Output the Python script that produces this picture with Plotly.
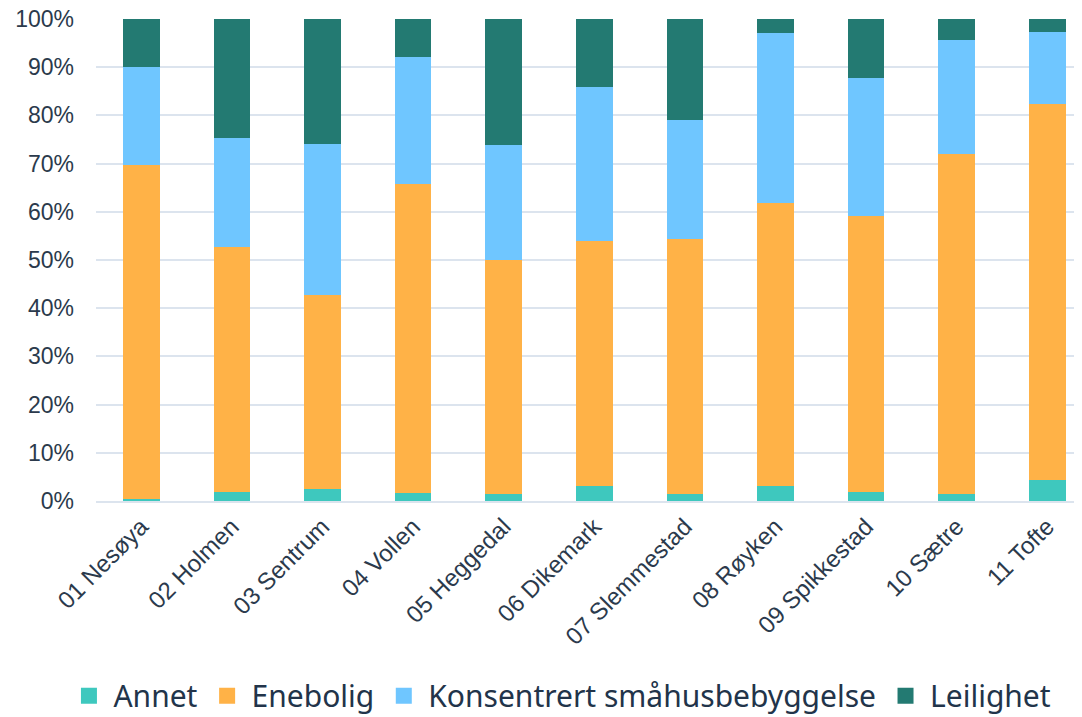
import plotly.graph_objects as go

categories = ["01 Nesøya", "02 Holmen", "03 Sentrum", "04 Vollen", "05 Heggedal",
              "06 Dikemark", "07 Slemmestad", "08 Røyken", "09 Spikkestad", "10 Sætre", "11 Tofte"]
annet = [0.5, 1.9, 2.5, 1.7, 1.4, 3.2, 1.5, 3.1, 1.9, 1.5, 4.4]
enebolig = [69.3, 50.8, 40.3, 64.0, 48.5, 50.8, 52.9, 58.7, 57.2, 70.5, 78.0]
konsentrert = [20.2, 22.7, 31.2, 26.5, 24.0, 31.9, 24.7, 35.3, 28.6, 23.7, 15.0]
leilighet = [10.0, 24.6, 26.0, 7.8, 26.1, 14.1, 20.9, 2.9, 12.3, 4.3, 2.6]

series = [
    ("Annet", annet, "#3EC8BE"),
    ("Enebolig", enebolig, "#FFB247"),
    ("Konsentrert småhusbebyggelse", konsentrert, "#6FC6FF"),
    ("Leilighet", leilighet, "#237A72"),
]

fig = go.Figure()
for name, vals, col in series:
    fig.add_trace(go.Bar(x=categories, y=[v / 100 for v in vals], name=name,
                         marker=dict(color=col, line=dict(width=0)),
                         legendgroup=name, showlegend=False))
# legend proxies with larger square symbols
for name, vals, col in series:
    fig.add_trace(go.Scatter(x=[None], y=[None], mode="markers", name=name,
                             legendgroup=name, showlegend=True,
                             marker=dict(symbol="square", size=16, color=col,
                                         line=dict(width=0))))

fig.update_layout(
    barmode="stack",
    bargap=0.595,
    width=1074, height=709,
    margin=dict(l=88, r=0, t=11, b=216, autoexpand=False),
    paper_bgcolor="white", plot_bgcolor="white",
    font=dict(family="Liberation Sans, Arial, sans-serif", color="#2B3A4C"),
    legend=dict(orientation="h", x=-0.032, xanchor="left", y=-0.404, yanchor="middle",
                font=dict(size=30, color="#22344A", family="Noto Sans, sans-serif"),
                traceorder="normal", itemwidth=39),
    showlegend=True,
)
fig.update_yaxes(range=[0, 1], tickformat=".0%", dtick=0.1, tickfont=dict(size=23),
                 gridcolor="#DCE4EE", gridwidth=2, zeroline=False, showline=False,
                 ticks="", ticklabelstandoff=21, ticklabeloverflow="allow")
fig.update_xaxes(tickangle=-45, tickfont=dict(size=24), showgrid=False,
                 range=[-0.5, 10.383],
                 showline=True, linecolor="#DCE4EE", linewidth=2, ticks="")

fig.write_html("out.html")
